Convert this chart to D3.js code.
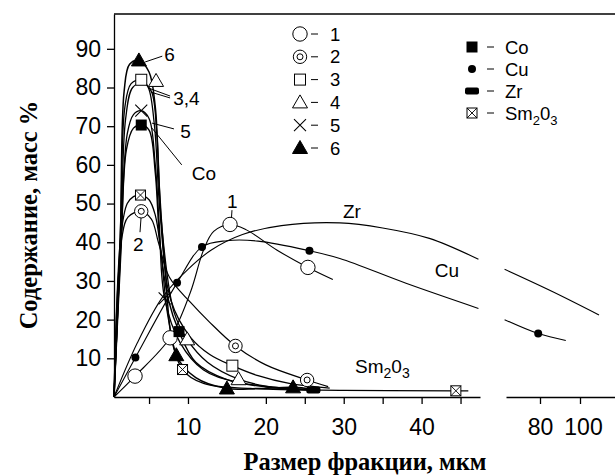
<!DOCTYPE html>
<html lang="ru">
<head>
<meta charset="UTF-8">
<title>Содержание по фракциям</title>
<script src="https://d3js.org/d3.v7.min.js"></script>
<style>
  body { margin: 0; background: #fff; }
  svg { display: block; }
  .tick text { font-family: Arial, "Liberation Sans", sans-serif; font-size: 23px; fill: #000; }
  .note { font-family: Arial, "Liberation Sans", sans-serif; font-size: 19px; }
  .leg { font-family: Arial, "Liberation Sans", sans-serif; font-size: 18.5px; }
  .title { font-family: "Times New Roman", "Liberation Serif", serif; font-weight: bold; font-size: 24.5px; }
</style>
</head>
<body>
<svg id="chart" width="615" height="476"></svg>
<script>
// axis ticks
const yTicks = [10, 20, 30, 40, 50, 60, 70, 80, 90];
const xTicks = [5, 10, 20, 25, 30, 35, 40, 45];
const xLabels = [10, 20, 30, 40];
const xRightTicks = [80, 100];

// curves 1..6 : [size, %]
const s1Marks = [[3.2, 5.4], [7.7, 15.3], [15.4, 44.6], [25.4, 33.5]];
const s1Curve = [[0.5, 0], [3.2, 5.4], [7.7, 15.3], [10.3, 27], [12, 38], [13.3, 42.8], [15.4, 44.6], [17.5, 43.2], [21.4, 38], [25.4, 33.5], [28.6, 30.4]];

const s2Marks = [[4, 48], [16.1, 13.2], [25.3, 4.4]];
const s2Curve = [[0.5, 0], [1.5, 41], [2.3, 46.5], [4, 48], [5.3, 46], [6.2, 40], [7.6, 31], [10.3, 24.5], [12.7, 19.5], [16.1, 13.2], [20, 8.3], [25.3, 4.4], [28, 2.7]];

const s3Marks = [[4, 82], [15.7, 8.1]];
const s3Curve = [[0.5, 0], [1.35, 45], [1.9, 75], [2.7, 81], [4, 82], [4.9, 80], [5.7, 70], [6.4, 48], [7.8, 25], [10.3, 15.5], [12.8, 11], [15.7, 8.1], [19, 5.5], [23, 3.5], [28.2, 2.3]];

const s4Marks = [[5.9, 81.7], [9.9, 14.9], [16.5, 4.6]];
const s4Curve = [[0.5, 0], [1.4, 42], [2, 72], [2.9, 80], [4.2, 81.2], [5.3, 79], [6, 68], [6.6, 45], [8.2, 22], [9.9, 14.9], [12.5, 9], [16.5, 4.6], [20, 2.8], [25, 2]];

const s5Marks = [[4, 74], [7, 25.5]];
const s5Curve = [[0.5, 0], [1.4, 40], [2.2, 68], [3, 73], [4, 74], [5, 72], [5.8, 60], [6.3, 45], [7, 25.5], [9, 14], [12, 7], [16, 4], [24, 2], [27, 1.8]];

const s6Marks = [[3.7, 87], [8.5, 10.8], [15, 2.2], [23.5, 2.5]];
const s6Curve = [[0.5, 0], [1.3, 40], [1.8, 79], [2.5, 86], [3.7, 87], [5, 84], [5.8, 75], [6.3, 55], [7, 35], [8.5, 10.8], [11, 5], [15, 2.2], [19, 2.2], [23.5, 2.5], [26, 2]];

// elements
const coMarks = [[4, 70.3], [8.85, 16.9]];
const coCurve = [[0.5, 0], [1.4, 38], [2.1, 64], [3, 69.5], [4, 70.3], [5, 69], [5.8, 58], [6.4, 40], [7.5, 25], [8.85, 16.9], [11, 9], [15, 4.5], [20, 2.6], [26.2, 1.8]];

const cuMarks = [[3.25, 10.2], [8.6, 29.5], [11.8, 38.8], [25.6, 37.8]];
const cuCurve = [[0.5, 0], [3.25, 10.2], [8.6, 29.5], [11.8, 38.8], [15, 40.4], [19, 40.3], [25.6, 37.8], [29.5, 35.8], [38, 29.4], [47.3, 22.9]];
const cuRightMarks = [[79.1, 16.4]];
const cuRightCurve = [[62.3, 20], [79.1, 16.4], [92.9, 14.6]];

const zrMarks = [[26.1, 1.8]];
const zrCurve = [[0.5, 0], [3.5, 14], [6.8, 26], [10, 33], [13, 38], [17, 42], [22, 44.3], [29.5, 45], [35, 43.7], [41, 41], [47.3, 35.6]];
const zrRightCurve = [[62.3, 33], [86.4, 27.2], [109.5, 21.2]];

const smMarks = [[3.9, 52.2], [9.3, 7.1], [44.4, 1.6]];
const smCurve = [[0.5, 0], [1.4, 42], [2.2, 50], [3, 51.8], [3.9, 52.2], [5, 51], [5.8, 47], [6.5, 38], [7.5, 20], [9.3, 7.1], [12, 3.5], [18, 2.2], [30, 1.7], [44.4, 1.6], [46, 1.6]];

// labels on the plot: text, position, leader line (data units)
const notes = [
  { t: "6", at: [6.95, 86.8], lead: [[4.5, 86.6], [6.7, 88.1]] },
  { t: "3,4", at: [8.1, 75.5], lead: [[4.87, 79.9], [7.7, 77.8]] },
  { t: "", at: [8.1, 75.5], lead: [[5.25, 78.8], [7.7, 77.3]] },
  { t: "5", at: [9.0, 66.9], lead: [[5.38, 70.8], [8.2, 69.3]] },
  { t: "Co", at: [10.5, 56.1], lead: [[5.38, 69.5], [9.2, 60]] },
  { t: "2", at: [2.95, 37.7], lead: [[3.97, 46.3], [3.84, 42.6]] },
  { t: "1", at: [15.0, 48.85], lead: [[15.65, 48.3], [15.59, 46.4]] },
  { t: "Zr", at: [29.9, 46.3], lead: null },
  { t: "Cu", at: [41.7, 31.0], lead: null }
];
const smNote = [31.45, 6.2];

const svg = d3.select("#chart");

const y = d3.scaleLinear().domain([0, 99]).range([397, 14]);
const xL = d3.scaleLinear().domain([0.5, 47.5]).range([114, 480]);
const xR = d3.scaleLinear().domain([63, 117.5]).range([506, 615]);

function curvePath(data, xs) {
  return d3.line()
    .x(d => xs(d[0]))
    .y(d => y(d[1]))
    .curve(d3.curveCatmullRom.alpha(0.5))(data);
}

// draw one marker into a group already moved to its spot
function marker(g, type) {
  if (type === "circle") {
    g.append("circle").attr("r", 7.2).attr("fill", "#fff").attr("stroke", "#000");
  } else if (type === "dcircle") {
    g.append("circle").attr("r", 6.7).attr("fill", "#fff").attr("stroke", "#000");
    g.append("circle").attr("r", 3).attr("fill", "#fff").attr("stroke", "#000");
  } else if (type === "square") {
    g.append("rect").attr("x", -5.5).attr("y", -5.5).attr("width", 11).attr("height", 11)
      .attr("fill", "#fff").attr("stroke", "#000");
  } else if (type === "tri") {
    g.append("path").attr("d", "M0,-7.5L7.5,5.5L-7.5,5.5Z").attr("fill", "#fff").attr("stroke", "#000");
  } else if (type === "cross") {
    g.append("path").attr("d", "M-6,-6L6,6M-6,6L6,-6").attr("stroke", "#000").attr("stroke-width", 1.1);
  } else if (type === "ftri") {
    g.append("path").attr("d", "M0,-7.5L7.5,5.5L-7.5,5.5Z").attr("fill", "#000").attr("stroke", "#000");
  } else if (type === "fsquare") {
    g.append("rect").attr("x", -5.5).attr("y", -5.5).attr("width", 11).attr("height", 11).attr("fill", "#000");
  } else if (type === "dot") {
    g.append("circle").attr("r", 4).attr("fill", "#000");
  } else if (type === "bar") {
    g.append("rect").attr("x", -7).attr("y", -3.5).attr("width", 14).attr("height", 7)
      .attr("rx", 2).attr("fill", "#000");
  } else if (type === "xsquare") {
    g.append("rect").attr("x", -5).attr("y", -5).attr("width", 10).attr("height", 10)
      .attr("fill", "#fff").attr("stroke", "#000");
    g.append("path").attr("d", "M-5,-5L5,5M-5,5L5,-5").attr("stroke", "#000").attr("stroke-width", 0.9);
  }
}

const series = [
  { curve: zrCurve, marks: zrMarks, type: "bar", xs: xL, w: 1.1 },
  { curve: zrRightCurve, marks: [], type: "bar", xs: xR, w: 1.1 },
  { curve: cuCurve, marks: cuMarks, type: "dot", xs: xL, w: 1.1 },
  { curve: cuRightCurve, marks: cuRightMarks, type: "dot", xs: xR, w: 1.1 },
  { curve: smCurve, marks: smMarks, type: "xsquare", xs: xL, w: 1.3 },
  { curve: s1Curve, marks: s1Marks, type: "circle", xs: xL, w: 1.1 },
  { curve: s2Curve, marks: s2Marks, type: "dcircle", xs: xL, w: 1.2 },
  { curve: s3Curve, marks: s3Marks, type: "square", xs: xL, w: 1.3 },
  { curve: s4Curve, marks: s4Marks, type: "tri", xs: xL, w: 1.3 },
  { curve: s5Curve, marks: s5Marks, type: "cross", xs: xL, w: 1.3 },
  { curve: coCurve, marks: coMarks, type: "fsquare", xs: xL, w: 1.4 },
  { curve: s6Curve, marks: s6Marks, type: "ftri", xs: xL, w: 1.5 }
];

// lines
svg.append("g").selectAll("path")
  .data(series)
  .join("path")
  .attr("d", d => curvePath(d.curve, d.xs))
  .attr("fill", "none")
  .attr("stroke", "#000")
  .attr("stroke-width", d => d.w);

// markers
series.forEach(s => {
  s.marks.forEach(p => {
    const g = svg.append("g").attr("transform", `translate(${s.xs(p[0])},${y(p[1])})`);
    marker(g, s.type);
  });
});

// axes
svg.append("g")
  .attr("transform", `translate(${xL.range()[0]},0)`)
  .call(d3.axisLeft(y).tickValues(yTicks).tickSize(7).tickPadding(6).tickSizeOuter(0));

svg.append("g")
  .attr("transform", `translate(0,${y(0)})`)
  .call(d3.axisBottom(xL).tickValues(xTicks).tickSize(7).tickPadding(15).tickSizeOuter(0)
    .tickFormat(d => xLabels.includes(d) ? d : ""));

const axXR = svg.append("g")
  .attr("transform", `translate(0,${y(0)})`)
  .call(d3.axisBottom(xR).tickValues(xRightTicks).tickSize(7).tickPadding(15).tickSizeOuter(0));

svg.selectAll(".domain, .tick line").attr("stroke", "#000").attr("stroke-width", 1.3);
svg.selectAll(".tick text").attr("font-family", null).attr("font-size", null);
axXR.selectAll(".tick text").filter(d => d === 100).attr("dx", 3);

// top frame line
svg.append("line")
  .attr("x1", xL.range()[0]).attr("x2", xR.range()[1])
  .attr("y1", y.range()[1]).attr("y2", y.range()[1])
  .attr("stroke", "#000").attr("stroke-width", 1.3);

// annotations
notes.forEach(n => {
  if (n.lead) {
    svg.append("line")
      .attr("x1", xL(n.lead[0][0])).attr("y1", y(n.lead[0][1]))
      .attr("x2", xL(n.lead[1][0])).attr("y2", y(n.lead[1][1]))
      .attr("stroke", "#000").attr("stroke-width", 1);
  }
  if (n.t) {
    svg.append("text").attr("class", "note")
      .attr("x", xL(n.at[0])).attr("y", y(n.at[1]))
      .text(n.t);
  }
});

const smText = svg.append("text").attr("class", "note")
  .attr("x", xL(smNote[0])).attr("y", y(smNote[1]));
smText.append("tspan").text("Sm");
smText.append("tspan").attr("dy", 5).attr("font-size", 14).text("2");
smText.append("tspan").attr("dy", -5).text("0");
smText.append("tspan").attr("dy", 5).attr("font-size", 14).text("3");

// legend, left column
const legLeft = [
  { type: "circle", label: "1" },
  { type: "dcircle", label: "2" },
  { type: "square", label: "3" },
  { type: "tri", label: "4" },
  { type: "cross", label: "5" },
  { type: "ftri", label: "6" }
];
legLeft.forEach((d, i) => {
  const g = svg.append("g").attr("transform", `translate(300,${34 + i * 22.8})`);
  marker(g, d.type);
  g.append("line").attr("x1", 11).attr("x2", 18).attr("stroke", "#000").attr("stroke-width", 1);
  g.append("text").attr("class", "leg").attr("x", 30).attr("y", 6.5).text(d.label);
});

// legend, right column
const legRight = [
  { type: "fsquare", label: "Co" },
  { type: "dot", label: "Cu" },
  { type: "bar", label: "Zr" },
  { type: "xsquare", label: "Sm" }
];
legRight.forEach((d, i) => {
  const g = svg.append("g").attr("transform", `translate(472,${47 + i * 22})`);
  marker(g, d.type);
  g.append("line").attr("x1", 15).attr("x2", 22).attr("stroke", "#000").attr("stroke-width", 1);
  const t = g.append("text").attr("class", "leg").attr("x", 33).attr("y", 6.5).text(d.label);
  if (d.label === "Sm") {
    t.append("tspan").attr("dy", 5).attr("font-size", 13).text("2");
    t.append("tspan").attr("dy", -5).text("0");
    t.append("tspan").attr("dy", 5).attr("font-size", 13).text("3");
  }
});

// axis titles
svg.append("text").attr("class", "title")
  .attr("x", 365).attr("y", 470)
  .attr("text-anchor", "middle")
  .text("Размер фракции, мкм");

svg.append("text").attr("class", "title")
  .attr("transform", "translate(37,215) rotate(-90)")
  .attr("text-anchor", "middle")
  .text("Содержание, масс %");
</script>
</body>
</html>
